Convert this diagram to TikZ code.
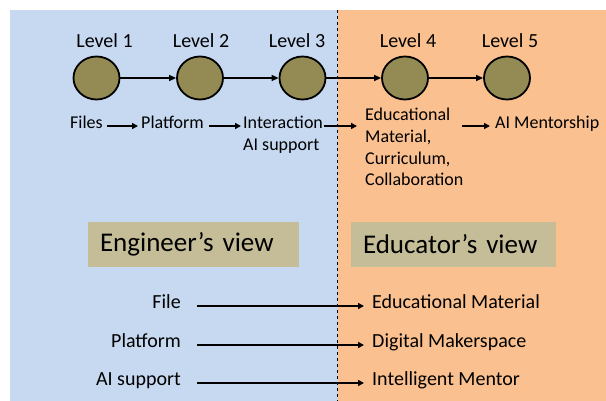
\documentclass[tikz,border=0pt]{standalone}
\usepackage{fontspec}
\setmainfont{Carlito}
\usetikzlibrary{arrows.meta,shapes.geometric}
\definecolor{engblue}{HTML}{C6D9F1}
\definecolor{eduorange}{HTML}{FAC090}
\definecolor{levelolive}{HTML}{948A54}
\definecolor{viewtan}{HTML}{C4BD97}
\tikzset{
  levelnode/.style={ellipse, draw=black, line width=1.8pt, fill=levelolive,
    minimum width=46pt, minimum height=43pt, inner sep=0pt},
  leveltext/.style={font=\fontsize{20}{24}\selectfont, inner sep=0pt},
  stagetext/.style={font=\fontsize{18}{21.7}\selectfont, inner sep=0pt,
    text height=1.4ex, text depth=0.3ex},
  pairtext/.style={font=\fontsize{20}{24}\selectfont, inner sep=0pt,
    text height=1.4ex, text depth=0.3ex},
  viewbox/.style={fill=viewtan, minimum height=45pt, inner xsep=12pt,
    font=\fontsize{27}{30}\selectfont, align=left},
  levelarrow/.style={-{Triangle[length=7pt,width=6pt]}, line width=1.4pt},
  textarrow/.style={-{Triangle[length=6pt,width=6pt]}, line width=1.7pt},
}
\begin{document}
\begin{tikzpicture}[x=1pt,y=-1pt]
\useasboundingbox (0,0) rectangle (606,401);
% two halves of the background
\fill[engblue] (10,10) rectangle (337.5,401);
\fill[eduorange] (337.5,10) rectangle (606,401);
\draw[dashed, line width=0.9pt] (337.5,10) -- (337.5,401);

% levels
\node[levelnode] (c1) at (96.5,78) {};
\node[levelnode] (c2) at (200,78) {};
\node[levelnode] (c3) at (302.5,78) {};
\node[levelnode] (c4) at (405,78) {};
\node[levelnode] (c5) at (507,78) {};
\node[leveltext] (t1) at (104.5,41) {Level 1};
\node[leveltext] (t2) at (201,41) {Level 2};
\node[leveltext] (t3) at (297,41) {Level 3};
\node[leveltext] (t4) at (408,41) {Level 4};
\node[leveltext] (t5) at (510,41) {Level 5};
\draw[levelarrow] (c1) -- (c2);
\draw[levelarrow] (c2) -- (c3);
\draw[levelarrow] (c3) -- (c4);
\draw[levelarrow] (c4) -- (c5);

% what each level offers
\node[stagetext, anchor=west] (files) at (70,126) {Files};
\node[stagetext, anchor=west] (platform) at (141,126) {Platform};
\node[stagetext, anchor=west] (inter) at (243,126) {Interaction};
\node[stagetext, anchor=west] (aisup) at (243,148) {AI support};
\node[font=\fontsize{18}{21.7}\selectfont, inner sep=0pt, align=left, anchor=north west]
  (edu) at (365,108) {Educational\\Material,\\Curriculum,\\Collaboration};
\node[stagetext, anchor=west] (mentor) at (495,126) {AI Mentorship};
\draw[textarrow, shorten <=4pt, shorten >=3pt] (files.east) -- (platform.west);
\draw[textarrow, shorten <=5pt, shorten >=2pt] (platform.east) -- (inter.west);
\draw[textarrow, shorten <=1pt, shorten >=8pt] (inter.east) -- (inter.east -| edu.west);
\draw[textarrow, shorten <=1pt, shorten >=5pt] (edu.east |- mentor.west) ++(-3pt,0) -- (mentor.west);

% the two views
\node[viewbox, text width=187pt] (eng) at (193.5,244.5) {Engineer’s view};
\node[viewbox, text width=181pt] (educ) at (453.5,244.5) {Educator’s view};

\node[pairtext, anchor=east] (lfile) at (181,306) {File};
\node[pairtext, anchor=east] (lplat) at (181,345) {Platform};
\node[pairtext, anchor=east] (lai) at (181,383) {AI support};
\node[pairtext, anchor=west] (rfile) at (372,306) {Educational Material};
\node[pairtext, anchor=west] (rplat) at (372,345) {Digital Makerspace};
\node[pairtext, anchor=west] (rai) at (372,383) {Intelligent Mentor};
\draw[textarrow, shorten <=16pt, shorten >=8pt] (lfile.east) -- (rfile.west);
\draw[textarrow, shorten <=16pt, shorten >=8pt] (lplat.east) -- (rplat.west);
\draw[textarrow, shorten <=16pt, shorten >=8pt] (lai.east) -- (rai.west);
\end{tikzpicture}
\end{document}
